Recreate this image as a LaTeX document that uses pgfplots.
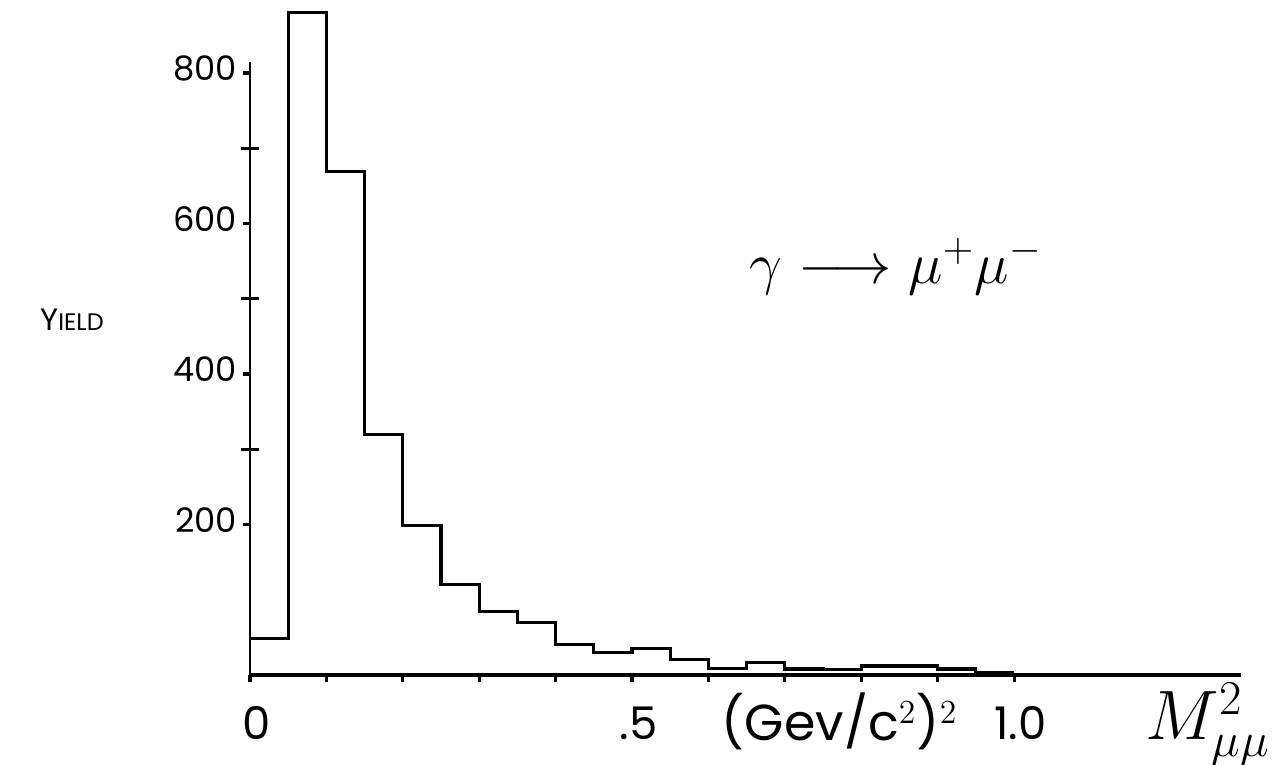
\documentclass[border=0pt]{standalone}
\usepackage{fontspec}
\setmainfont{Poppins}
\usepackage{pgfplots}
\pgfplotsset{compat=1.18}

\begin{document}
\begin{tikzpicture}
% page = 1279 x 765 px, 1 px = 0.0125 cm, axis origin at px (250,675)
\path[use as bounding box] (-3.125cm,-1.125cm) rectangle (12.8625cm,8.4375cm);
\begin{axis}[at={(0,0)}, anchor=south west, scale only axis,
  width=12.3875cm, height=8.2775cm,
  xmin=0, xmax=1.297, ymin=0, ymax=880,
  clip=false,
  axis x line=bottom, axis y line=left,
  x axis line style={-, line width=1.3pt},
  y axis line style={draw=none},
  tick align=outside,
  major tick length=0.09cm,
  every tick/.style={black, line width=1.1pt},
  xtick={0,0.1,0.2,0.3,0.4,0.5,0.6,0.7,0.8,0.9,1.0},
  xticklabels={0,,,,,.5,,,,,1.0},
  ytick={200,400,600,800},
  extra y ticks={300,500,700},
  extra y tick labels={},
  extra y tick style={tick align=center, major tick length=0.22cm},
  /pgf/number format/assume math mode=true,
  xticklabel style={font=\fontsize{16}{19}\selectfont, yshift=-0.18cm, xshift=0.08cm},
  yticklabel style={font=\fontsize{12}{15}\selectfont, xshift=0.05cm, yshift=0.06cm},
  ]
  % y axis drawn only up to the 800 tick, as in the sketch
  \addplot[black, line width=0.9pt] coordinates {(0,0) (0,815)};
  % histogram, bins of 0.05 (GeV/c^2)^2
  \addplot[const plot, black, line width=1.1pt] coordinates {
    (0.00,49) (0.05,881) (0.10,669) (0.15,320) (0.20,199) (0.25,120)
    (0.30,84) (0.35,70) (0.40,41) (0.45,30) (0.50,35) (0.55,21)
    (0.60,9) (0.65,16) (0.70,8) (0.75,7) (0.80,12) (0.85,12)
    (0.90,8) (0.95,3) (1.00,3)
  };
  \node at (axis cs:-0.233,472) {{\fontsize{11}{13}\selectfont Y}{\fontsize{8.5}{10}\selectfont IELD}};
  \node[font=\fontsize{21}{25}\selectfont] at (axis cs:0.845,543) {$\gamma \longrightarrow \mu^{+}\mu^{-}$};
  \node[font=\fontsize{18}{21}\selectfont] at (axis cs:0.772,-62) {(Gev/c$^{2}$)$^{2}$};
  \node[font=\fontsize{24}{28}\selectfont] at (axis cs:1.254,-66) {$M^{2}_{\mu\mu}$};
\end{axis}
\end{tikzpicture}
\end{document}
